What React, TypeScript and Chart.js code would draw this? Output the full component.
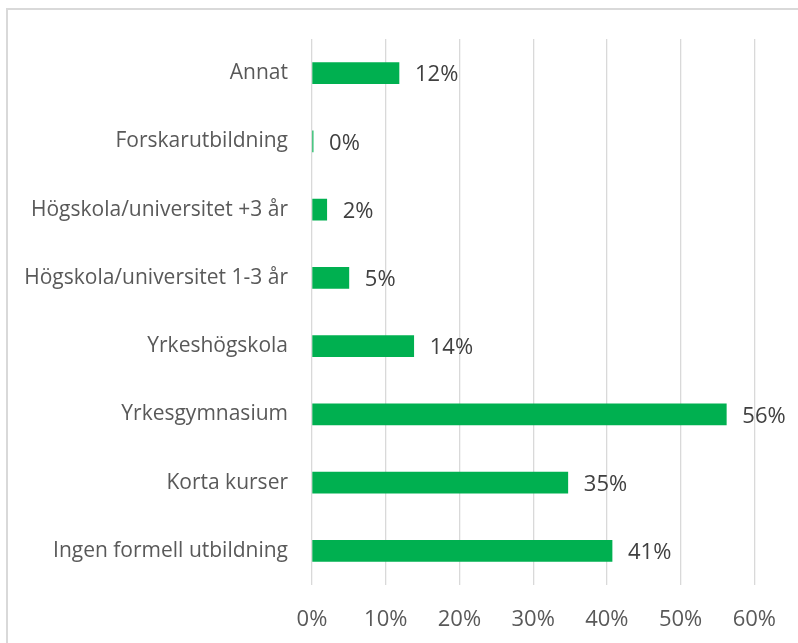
import React, { useEffect, useRef } from "react";
import { Chart, registerables } from "chart.js";

Chart.register(...registerables);

const categories = [
  "Annat",
  "Forskarutbildning",
  "Högskola/universitet +3 år",
  "Högskola/universitet 1-3 år",
  "Yrkeshögskola",
  "Yrkesgymnasium",
  "Korta kurser",
  "Ingen formell utbildning",
];
const values = [11.8, 0.15, 2.0, 5.0, 13.8, 56.2, 34.7, 40.7];
const valueLabels = ["12%", "0%", "2%", "5%", "14%", "56%", "35%", "41%"];
const xTicks = [0, 10, 20, 30, 40, 50, 60];

const FONT = "'Open Sans', sans-serif";

const dataLabelPlugin = {
  id: "dataLabels",
  afterDatasetsDraw(chart: any) {
    const ctx = chart.ctx;
    const meta = chart.getDatasetMeta(0);
    ctx.save();
    ctx.font = `22px ${FONT}`;
    ctx.fillStyle = "#404040";
    ctx.textAlign = "left";
    ctx.textBaseline = "middle";
    meta.data.forEach((bar: any, i: number) => {
      ctx.fillText(valueLabels[i], bar.x + 16, bar.y + 2);
    });
    ctx.restore();
  },
};

export default function App() {
  const ref = useRef<HTMLCanvasElement | null>(null);
  useEffect(() => {
    if (!ref.current) return;
    const chart = new Chart(ref.current, {
      type: "bar",
      data: {
        labels: categories,
        datasets: [
          {
            data: values,
            backgroundColor: "#00B050",
            barThickness: 21,
          },
        ],
      },
      options: {
        indexAxis: "y",
        animation: false,
        responsive: false,
        maintainAspectRatio: false,
        layout: { padding: { top: 39, right: 41, left: 0, bottom: 0 } },
        plugins: { legend: { display: false }, tooltip: { enabled: false } },
        scales: {
          x: {
            min: 0,
            max: 60,
            afterBuildTicks: (axis: any) => {
              axis.ticks = xTicks.map((v) => ({ value: v }));
            },
            grid: { color: "#d9d9d9", lineWidth: 1.3, drawTicks: false },
            border: { display: false },
            ticks: {
              callback: (v: any) => v + "%",
              color: "#595959",
              font: { family: FONT, size: 22 },
              padding: 22,
            },
            afterFit: (axis: any) => {
              axis.height = 58;
            },
          },
          y: {
            grid: { display: false, drawTicks: false },
            border: { display: false },
            ticks: {
              color: "#595959",
              font: { family: FONT, size: 21 },
              padding: 24,
            },
            afterFit: (axis: any) => {
              axis.width = 312;
            },
          },
        },
      },
      plugins: [dataLabelPlugin],
    });
    return () => chart.destroy();
  }, []);
  return (
    <div style={{ position: "absolute", left: 0, top: 0, width: 798, height: 643, overflow: "hidden" }}>
      <div
        style={{
          position: "absolute",
          left: 6,
          top: 8,
          width: 900,
          height: 900,
          borderLeft: "2px solid #d9d9d9",
          borderTop: "2px solid #d9d9d9",
        }}
      />
      <canvas ref={ref} width={798} height={643} style={{ position: "absolute", left: 0, top: 0 }} />
    </div>
  );
}
